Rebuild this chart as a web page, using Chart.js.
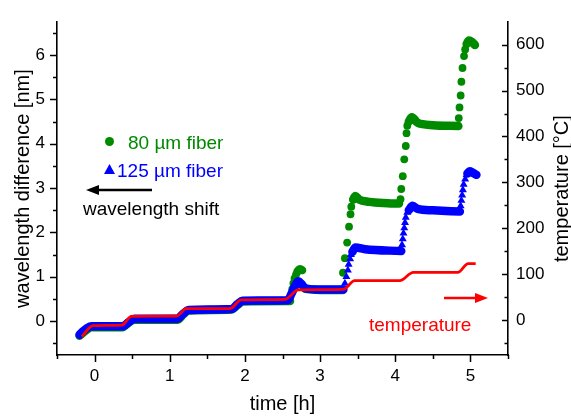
<!DOCTYPE html>
<html>
<head>
<meta charset="utf-8">
<script src="https://cdn.jsdelivr.net/npm/chart.js@4.4.0/dist/chart.umd.min.js"></script>
<style>
  html, body { margin: 0; padding: 0; background: #fff; }
</style>
</head>
<body>
<canvas id="chart" width="571" height="416"></canvas>
<script>
// ============================================================
// DATA  time [h] / wavelength diff [nm]
// null = break between dense stretches of markers
// ============================================================
const fiber80Band = [
    [-0.2, -0.33], [-0.1, -0.19], [-0.04, -0.14], [0.37, -0.14], [0.45, -0.04], [0.53, 0.03],
    [1.1, 0.03], [1.18, 0.15], [1.25, 0.24], [1.82, 0.26], [1.9, 0.36], [1.97, 0.44],
    [2.6, 0.45],
    null,
    [2.7, 1.12], [2.73, 1.17], [2.76, 1.15],
    null,
    [2.8, 0.73], [3.0, 0.7], [3.3, 0.7],
    null,
    [3.44, 2.74], [3.47, 2.82], [3.52, 2.74], [3.65, 2.69], [3.9, 2.66], [4.05, 2.65],
    null,
    [4.18, 4.5], [4.22, 4.6], [4.3, 4.47], [4.5, 4.42], [4.84, 4.4],
    null,
    [4.95, 6.25], [4.98, 6.33], [5.02, 6.3], [5.06, 6.23]
];
const fiber80Dots = [
    [2.63, 0.72], [2.645, 0.85], [2.66, 0.96], [2.68, 1.05],
    [3.305, 1.09], [3.33, 1.42], [3.36, 1.77], [3.385, 2.13], [3.405, 2.41], [3.415, 2.58],
    [4.07, 2.75], [4.08, 2.98], [4.1, 3.27], [4.12, 3.65], [4.14, 3.95], [4.15, 4.24], [4.16, 4.41],
    [4.845, 4.58], [4.855, 4.82], [4.87, 5.09], [4.88, 5.4], [4.895, 5.71], [4.915, 5.98], [4.93, 6.13]
];
const fiber125Band = [
    [-0.2, -0.31], [-0.16, -0.24], [-0.1, -0.16], [-0.04, -0.12], [0.37, -0.12], [0.45, -0.03],
    [0.53, 0.05], [1.1, 0.05], [1.18, 0.17], [1.25, 0.25], [1.82, 0.27], [1.9, 0.38],
    [1.97, 0.46], [2.57, 0.47], [2.62, 0.62], [2.67, 0.8], [2.71, 0.9], [2.75, 0.84],
    [2.8, 0.74], [3.0, 0.71], [3.31, 0.71],
    null,
    [3.43, 1.56], [3.47, 1.66], [3.6, 1.62], [4.08, 1.58],
    null,
    [4.18, 2.5], [4.23, 2.6], [4.3, 2.53], [4.5, 2.5], [4.86, 2.47],
    null,
    [4.96, 3.33], [4.99, 3.38], [5.03, 3.35], [5.08, 3.3]
];
const fiber125Dots = [
    [3.33, 0.85], [3.35, 1.0], [3.37, 1.15], [3.38, 1.28], [3.4, 1.4], [3.41, 1.5],
    [4.09, 1.72], [4.1, 1.85], [4.11, 1.98], [4.12, 2.1], [4.13, 2.22], [4.14, 2.34], [4.16, 2.45],
    [4.87, 2.6], [4.88, 2.72], [4.89, 2.84], [4.9, 2.96], [4.91, 3.08], [4.93, 3.2], [4.95, 3.3]
];
// temperature [°C] on the right axis
const tempTime   = [-0.17, -0.02, 0.36, 0.49, 1.09, 1.22, 1.8, 1.95, 2.53, 2.71, 3.31, 3.46, 4.06, 4.24, 4.83, 4.97, 5.07];
const tempValues = [-36, -12, -11, 8, 9, 25, 25, 44, 45, 66, 67, 86, 86, 104, 104, 123, 123];

// labelled ticks
const timeTicks = [0, 1, 2, 3, 4, 5];
const wavelengthTicks = [0, 1, 2, 3, 4, 5, 6];
const temperatureTicks = [0, 100, 200, 300, 400, 500, 600];

// ============================================================
// STYLE
// ============================================================
const GREEN = '#008a00';
const BLUE = '#0000ff';
const RED = '#ff0000';
const FONT = 'Arial, "Liberation Sans", sans-serif';

function toPoints(list) {
    return list.map(p => p ? { x: p[0], y: p[1] } : { x: 0, y: null });
}

// ============================================================
// TICK MARKS (major / minor, right axis inward)
// ============================================================
const tickMarks = {
    id: 'tickMarks',
    afterDraw(chart) {
        const ctx = chart.ctx;
        const area = chart.chartArea;
        ctx.save();
        ctx.strokeStyle = '#000';
        ctx.lineWidth = 1.5;
        ctx.beginPath();
        chart.scales.x.ticks.forEach(t => {
            const px = Math.round(chart.scales.x.getPixelForValue(t.value)) + 0.5;
            const len = timeTicks.includes(t.value) ? 7 : 4;
            ctx.moveTo(px, area.bottom);
            ctx.lineTo(px, area.bottom + len);
        });
        chart.scales.y.ticks.forEach(t => {
            const py = Math.round(chart.scales.y.getPixelForValue(t.value)) + 0.5;
            const len = wavelengthTicks.includes(t.value) ? 7 : 4;
            ctx.moveTo(area.left, py);
            ctx.lineTo(area.left - len, py);
        });
        chart.scales.yT.ticks.forEach(t => {
            const py = Math.round(chart.scales.yT.getPixelForValue(t.value)) + 0.5;
            const len = temperatureTicks.includes(t.value) ? 6 : 3.5;
            ctx.moveTo(area.right, py);
            ctx.lineTo(area.right - len, py);
        });
        ctx.stroke();

        // right axis title reads bottom-to-top like the left one
        ctx.fillStyle = '#000';
        ctx.font = '20px ' + FONT;
        ctx.textAlign = 'center';
        ctx.textBaseline = 'middle';
        ctx.translate(chart.width - 9, (area.top + area.bottom) / 2);
        ctx.rotate(-Math.PI / 2);
        ctx.fillText('temperature [°C]', 0, 0);
        ctx.restore();
    }
};

// ============================================================
// LEGEND TEXT AND ARROWS
// ============================================================
function arrow(ctx, x1, x2, y, color) {
    const dir = x2 > x1 ? 1 : -1;
    ctx.strokeStyle = color;
    ctx.fillStyle = color;
    ctx.lineWidth = 2.5;
    ctx.beginPath();
    ctx.moveTo(x1, y);
    ctx.lineTo(x2 - dir * 10, y);
    ctx.stroke();
    ctx.beginPath();
    ctx.moveTo(x2, y);
    ctx.lineTo(x2 - dir * 13, y - 5);
    ctx.lineTo(x2 - dir * 13, y + 5);
    ctx.closePath();
    ctx.fill();
}

const notes = {
    id: 'notes',
    afterDatasetsDraw(chart) {
        const ctx = chart.ctx;
        ctx.save();
        ctx.font = '19px ' + FONT;
        ctx.textBaseline = 'alphabetic';

        ctx.fillStyle = GREEN;
        ctx.beginPath();
        ctx.arc(109.5, 141.5, 4.5, 0, Math.PI * 2);
        ctx.fill();
        ctx.fillText('80 µm fiber', 128, 148.5);

        ctx.fillStyle = BLUE;
        ctx.beginPath();
        ctx.moveTo(109.5, 164);
        ctx.lineTo(115, 174);
        ctx.lineTo(104, 174);
        ctx.closePath();
        ctx.fill();
        ctx.fillText('125 µm fiber', 117, 176.5);

        arrow(ctx, 152, 86, 190, '#000');
        ctx.fillStyle = '#000';
        ctx.fillText('wavelength shift', 83, 215);

        arrow(ctx, 444, 488, 298, RED);
        ctx.fillStyle = RED;
        ctx.fillText('temperature', 369, 331);
        ctx.restore();
    }
};

// ============================================================
// CHART
// ============================================================
const tickFont = { family: FONT, size: 17 };
const titleFont = { family: FONT, size: 20 };

new Chart(document.getElementById('chart'), {
    type: 'scatter',
    data: {
        datasets: [
            {
                label: 'temperature',
                yAxisID: 'yT',
                data: tempTime.map((t, i) => ({ x: t, y: tempValues[i] })),
                showLine: true,
                borderColor: RED,
                borderWidth: 2.8,
                pointRadius: 0,
                cubicInterpolationMode: 'monotone',
                order: 0
            },
            {
                label: '125 µm fiber',
                yAxisID: 'y',
                data: toPoints(fiber125Dots),
                showLine: false,
                pointStyle: 'triangle',
                pointRadius: 4.6,
                backgroundColor: BLUE,
                borderColor: BLUE,
                borderWidth: 0,
                order: 1
            },
            {
                label: '125 µm band',
                yAxisID: 'y',
                data: toPoints(fiber125Band),
                showLine: true,
                spanGaps: false,
                borderColor: BLUE,
                borderWidth: 8.5,
                borderCapStyle: 'round',
                borderJoinStyle: 'round',
                cubicInterpolationMode: 'monotone',
                pointRadius: 0,
                order: 2
            },
            {
                label: '80 µm fiber',
                yAxisID: 'y',
                data: toPoints(fiber80Dots),
                showLine: false,
                pointStyle: 'circle',
                pointRadius: 3.9,
                backgroundColor: GREEN,
                borderColor: GREEN,
                borderWidth: 0,
                order: 3
            },
            {
                label: '80 µm band',
                yAxisID: 'y',
                data: toPoints(fiber80Band),
                showLine: true,
                spanGaps: false,
                borderColor: GREEN,
                borderWidth: 8.5,
                borderCapStyle: 'round',
                borderJoinStyle: 'round',
                cubicInterpolationMode: 'monotone',
                pointRadius: 0,
                order: 4
            }
        ]
    },
    options: {
        responsive: false,
        animation: false,
        layout: { padding: { top: 12, left: 0, right: 0, bottom: 0 } },
        plugins: {
            legend: { display: false },
            tooltip: { enabled: false }
        },
        scales: {
            x: {
                type: 'linear',
                min: -0.5,
                max: 5.5,
                grid: { display: false, drawTicks: false },
                border: { display: true, color: '#000', width: 1.6 },
                ticks: {
                    stepSize: 0.5,
                    includeBounds: false,
                    autoSkip: false,
                    maxRotation: 0,
                    padding: 11,
                    color: '#000',
                    font: tickFont,
                    callback: v => timeTicks.includes(v) ? String(v) : ''
                },
                title: {
                    display: true,
                    text: 'time [h]',
                    color: '#000',
                    font: titleFont,
                    padding: { top: 0, bottom: 0 }
                },
                afterFit: s => { s.height = 61; }
            },
            y: {
                position: 'left',
                min: -0.766,
                max: 6.744,
                grid: { display: false, drawTicks: false },
                border: { display: true, color: '#000', width: 1.6 },
                ticks: {
                    stepSize: 0.5,
                    includeBounds: false,
                    autoSkip: false,
                    padding: 12,
                    color: '#000',
                    font: tickFont,
                    callback: v => wavelengthTicks.includes(v) ? String(v) : ''
                },
                title: {
                    display: true,
                    text: 'wavelength difference [nm]',
                    color: '#000',
                    font: titleFont,
                    padding: { top: 11, bottom: 0 }
                },
                afterFit: s => { s.width = 57; }
            },
            yT: {
                position: 'right',
                min: -76,
                max: 649,
                grid: { display: false, drawTicks: false },
                border: { display: true, color: '#000', width: 1.6 },
                ticks: {
                    stepSize: 50,
                    includeBounds: false,
                    autoSkip: false,
                    padding: 8,
                    color: '#000',
                    font: tickFont,
                    callback: v => temperatureTicks.includes(v) ? String(v) : ''
                },
                title: { display: false },
                afterFit: s => { s.width = 63; }
            }
        }
    },
    plugins: [tickMarks, notes]
});
</script>
</body>
</html>
